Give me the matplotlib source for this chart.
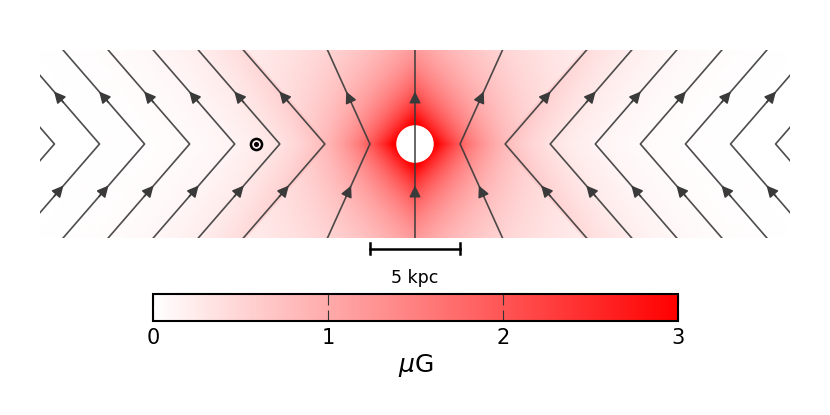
import numpy as np
import matplotlib.pyplot as plt
from matplotlib.colors import LinearSegmentedColormap
from matplotlib.patches import Circle

# X-field model parameters (Jansson & Farrar style)
b_x = 4.6          # muG
r_x = 2.9          # kpc
r_c = 4.8          # kpc
theta_x0 = 49.0    # deg, elevation angle outside r_c
r_hole = 1.0       # kpc, excluded inner region

x_lim = 20.8
z_lim = 5.2
sun_x = -8.8
vertices = [-20, -17.5, -15, -12.5, -10, -7.5, -5, -2.5, 0,
            2.5, 5, 7.5, 10, 12.5, 15, 17.5, 20]
cbar_ticks = [0, 1, 2, 3]

tan0 = np.tan(np.radians(theta_x0))


def field_strength(x, z):
    r = np.abs(x)
    az = np.abs(z)
    inner = r < r_c + az / tan0
    rp_in = r * r_c / (r_c + az / tan0)
    rp_out = r - az / tan0
    ratio_in = r_c / (r_c + az / tan0)
    with np.errstate(divide='ignore', invalid='ignore'):
        ratio_out = np.where(r > 0, rp_out / r, 0)
    b_in = b_x * np.exp(-rp_in / r_x) * ratio_in ** 2
    b_out = b_x * np.exp(-np.maximum(rp_out, 0) / r_x) * ratio_out
    return np.where(inner, b_in, b_out)


xx, zz = np.meshgrid(np.linspace(-x_lim, x_lim, 900), np.linspace(-z_lim, z_lim, 240))
bmag = field_strength(xx, zz)

cmap = LinearSegmentedColormap.from_list('wr', ['white', 'red'])

fig = plt.figure(figsize=(8.3, 4.15), dpi=100)
ax = fig.add_axes([40 / 830, 1 - 238 / 415, 750 / 830, 188 / 415])
im = ax.imshow(bmag, extent=[-x_lim, x_lim, -z_lim, z_lim], origin='lower',
               cmap=cmap, vmin=0, vmax=3, interpolation='bilinear', aspect='auto')
ax.add_patch(Circle((0, 0), r_hole, color='white', zorder=2))

line_col = '#3a3a3a'
z_mid = z_lim / 2
for x0 in vertices:
    s = np.sign(x0)
    slope = (abs(x0) / (r_c * tan0) if abs(x0) < r_c else 1 / tan0) * s
    xt = x0 + slope * z_lim
    ax.plot([xt, x0, xt], [-z_lim, 0, z_lim], color=line_col, lw=1.2, alpha=0.9, zorder=3)
    # arrows pointing upward along both halves
    for zc, dx in [(z_mid, slope), (-z_mid, -slope)]:
        xc = x0 + abs(zc) * slope
        if abs(xc) > x_lim - 0.2:
            continue
        ax.annotate('', xy=(xc + dx * 0.3, zc + 0.3), xytext=(xc - dx * 0.3, zc - 0.3),
                    arrowprops=dict(arrowstyle='-|>', color=line_col, lw=1.1,
                                    mutation_scale=17, shrinkA=0, shrinkB=0),
                    zorder=4)

# Sun
ax.plot(sun_x, 0, 'o', mfc='none', mec='black', ms=8, mew=1.8, zorder=5)
ax.plot(sun_x, 0, 'o', color='black', ms=2.6, zorder=5)

# scale bar
ax.plot([-2.5, 2.5], [-5.8, -5.8], color='black', lw=1.8, clip_on=False)
ax.plot([-2.5, -2.5], [-5.5, -6.1], color='black', lw=1.8, clip_on=False)
ax.plot([2.5, 2.5], [-5.5, -6.1], color='black', lw=1.8, clip_on=False)
ax.text(0, -7.4, '5 kpc', ha='center', va='center', fontsize=12.5)

ax.set_xlim(-x_lim, x_lim)
ax.set_ylim(-z_lim, z_lim)
ax.axis('off')

cax = fig.add_axes([153 / 830, 1 - 321 / 415, 525 / 830, 27 / 415])
cb = fig.colorbar(im, cax=cax, orientation='horizontal', ticks=cbar_ticks)
cb.outline.set_linewidth(1.5)
cax.axvline(0, color='blue', lw=1.2)
cax.tick_params(axis='x', direction='in', length=8, width=0.8, color='#333333',
                top=True, labelsize=15, pad=5)
cb.set_label(r'$\mu$G', fontsize=18, labelpad=3)

fig.savefig('out.png', dpi=100)
